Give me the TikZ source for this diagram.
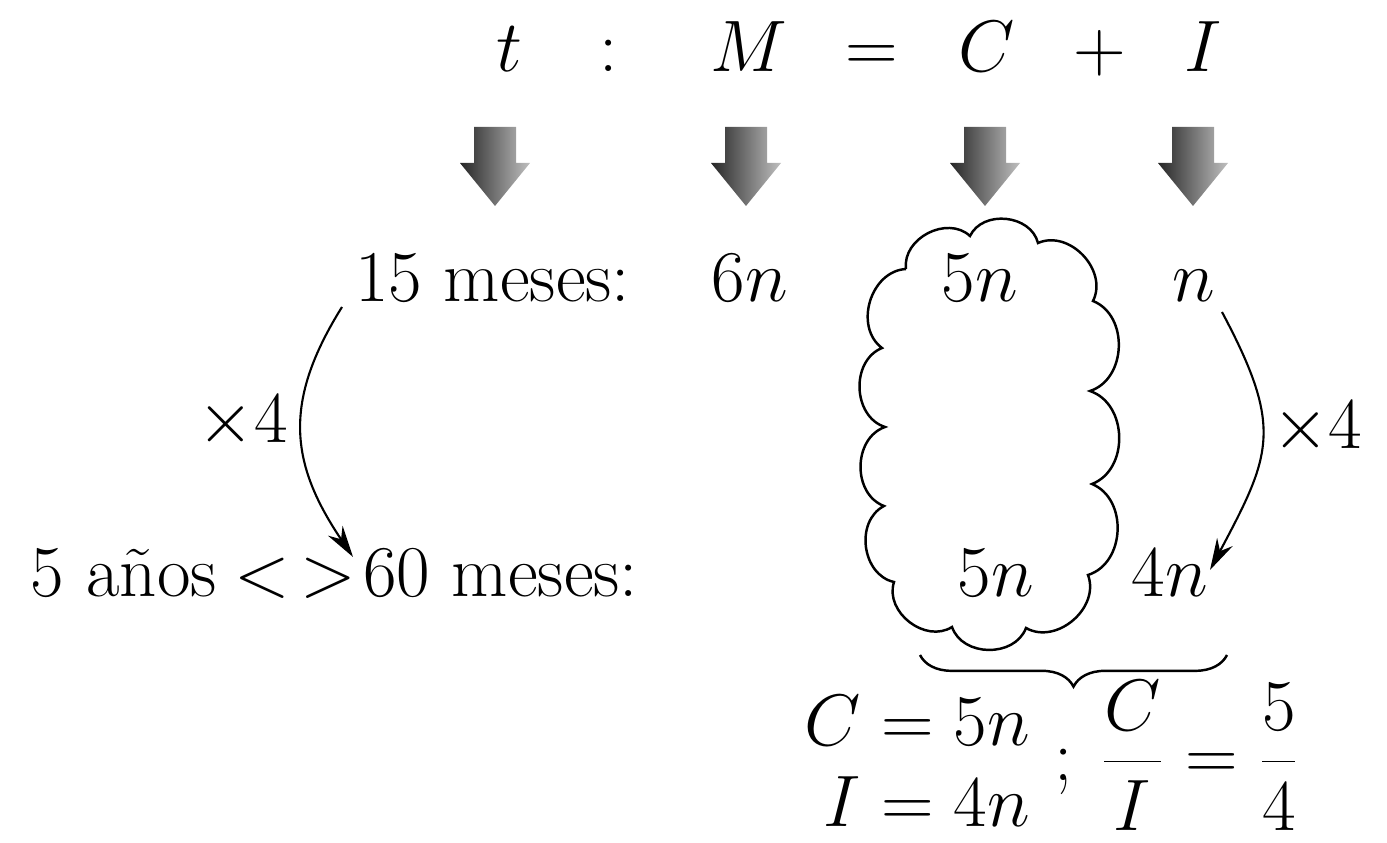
\documentclass[tikz,border=0pt]{standalone}
\usetikzlibrary{arrows.meta,decorations.pathreplacing}
\begin{document}
\begin{tikzpicture}[x=0.01cm,y=0.01cm,
  every node/.style={inner sep=0pt,outer sep=0pt,font=\huge},
  lbl/.style={anchor=base},
  curvearrow/.style={line width=0.6pt,-{Stealth[length=9pt,width=5pt]}},
  blockarrow/.pic={\shade[left color=black!85,right color=black!25]
     (-21,0) -- (21,0) -- (21,-36) -- (35,-36) -- (0,-79) -- (-35,-36) -- (-21,-36) -- cycle;},
  cloudline/.style={line width=0.7pt},
  bump/.style={bend left=70,looseness=1.1}
]
\useasboundingbox (0,0) rectangle (1387,-843);
% top row
\node[lbl] (t) at (509,-72) {$t$};
\node[lbl] (colon) at (609,-72) {$:$};
\node[lbl] (M) at (749,-72) {$M$};
\node[lbl] (eq) at (872,-72) {$=$};
\node[lbl] (C) at (987,-72) {$C$};
\node[lbl] (plus) at (1100,-72) {$+$};
\node[lbl] (I) at (1203,-72) {$I$};
% block arrows
\pic (ta) at (495,-127) {blockarrow};
\pic (Ma) at (746,-127) {blockarrow};
\pic (Ca) at (985,-127) {blockarrow};
\pic (Ia) at (1193,-127) {blockarrow};
% row 2
\node[anchor=base west] (m15) at (355,-302) {15 meses:};
\node[lbl] (six) at (750,-302) {$6n$};
\node[lbl] (c5a) at (980,-302) {$5n$};
\node[lbl] (n1) at (1194,-302) {$n$};
% row 3
\node[anchor=base west] (anos) at (31,-597) {5 años};
\node[lbl] (lt) at (262,-597) {$<$};
\node[lbl] (gt) at (328,-597) {$>$};
\node[anchor=base west] (m60) at (363,-597) {60 meses:};
\node[lbl] (c5b) at (996,-597) {$5n$};
\node[lbl] (n4) at (1170,-597) {$4n$};
% x4 labels
\node[anchor=base east] (x4l) at (288,-443) {$\times 4$};
\node[anchor=base west] (x4r) at (1272,-449) {$\times 4$};
% curved arrows
\draw[curvearrow] ([shift={(-13,-5)}]m15.base west) to[out=238,in=124,looseness=1.15] ([shift={(-10,40)}]m60.base west);
\draw[curvearrow] ([shift={(28,-10)}]n1.base) to[out=298,in=62,looseness=1.3] ([shift={(40,27)}]n4.base);
% cloud
\draw[cloudline] (906,-269) to[bump] (970,-236) to[bump] (1038,-243) to[bump] (1093,-301)
  to[bump] (1090,-391) to[bump] (1092,-484) to[bump] (1088,-575) to[bump] (1026,-628)
  to[bump] (952,-627) to[bump] (894,-582) to[bump] (884,-506) to[bump] (885,-427)
  to[bump] (882,-348) to[bump] (906,-269);
% brace
\coordinate (bl) at (920,-655);
\coordinate (br) at (1227,-655);
\draw[decorate,decoration={brace,mirror,amplitude=9pt},line width=0.7pt] (bl) -- (br);
% equations
\node[anchor=base east] (eqC) at (1030,-746) {$C = 5n$};
\node[anchor=base east] (eqI) at (1030,-827) {$I = 4n$};
\node[lbl] (semi) at (1064,-781) {$;$};
\node[anchor=base west] (frac) at (1100,-780) {$\displaystyle\frac{C}{I} = \frac{5}{4}$};
\end{tikzpicture}
\end{document}
